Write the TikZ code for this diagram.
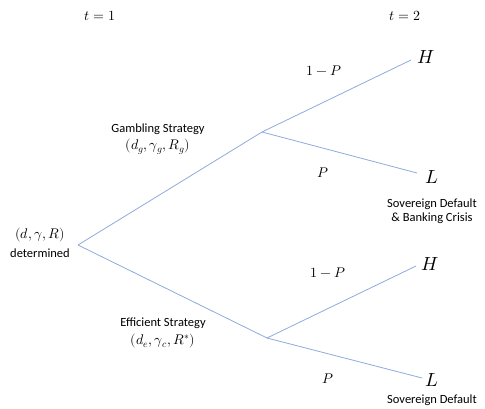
\documentclass[tikz,border=0pt]{standalone}
\usepackage{fontspec}
\setmainfont{Carlito}
\usepackage{unicode-math}
\setmathfont{Latin Modern Math}
\definecolor{branch}{RGB}{143,170,220}
\begin{document}
\begin{tikzpicture}[x=1pt,y=-1pt,
  br/.style={draw=branch,line width=0.8pt},
  lbl/.style={inner sep=0pt,font=\fontsize{12.5}{14.5}\selectfont,align=center},
  mth/.style={inner sep=0pt,font=\fontsize{14}{16}\selectfont},
  big/.style={inner sep=0pt,font=\fontsize{19}{21}\selectfont}]
\useasboundingbox (0,0) rectangle (485,409);
\coordinate (root) at (78,245);
\coordinate (gm) at (262,132);
\coordinate (em) at (267,338);
\coordinate (gH) at (411,60);
\coordinate (gL) at (417,173);
\coordinate (eH) at (416,266);
\coordinate (eL) at (422,378);
\draw[br] (root) -- (gm) -- (gH);
\draw[br] (gm) -- (gL);
\draw[br] (root) -- (em) -- (eH);
\draw[br] (em) -- (eL);
\node[mth] (t1) at (100,16) {$t=1$};
\node[mth] (t2) at (405,16) {$t=2$};
\node[big] (hH) at (426,57) {$H$};
\node[big] (hL) at (432,177) {$L$};
\node[big] (lH) at (430,264) {$H$};
\node[big] (lL) at (432,380) {$L$};
\node[mth] (p1) at (324,71) {$1-P$};
\node[mth] (p2) at (323,173) {$P$};
\node[mth] (p3) at (328,273) {$1-P$};
\node[mth] (p4) at (328,379) {$P$};
\node[lbl] (gs) at (158,129) {Gambling Strategy};
\node[mth] (gsv) at (158,147) {$(d_g,\gamma_g,R_g)$};
\node[mth] (rv) at (40,235) {$(d,\gamma,R)$};
\node[lbl] (rd) at (40,253) {determined};
\node[lbl] (es) at (163,323) {Efficient Strategy};
\node[mth] (esv) at (163,341) {$(d_e,\gamma_c,R^{*})$};
\node[lbl] (sd1) at (432,211) {Sovereign Default\\\& Banking Crisis};
\node[lbl] (sd2) at (432,400) {Sovereign Default};
\end{tikzpicture}
\end{document}
